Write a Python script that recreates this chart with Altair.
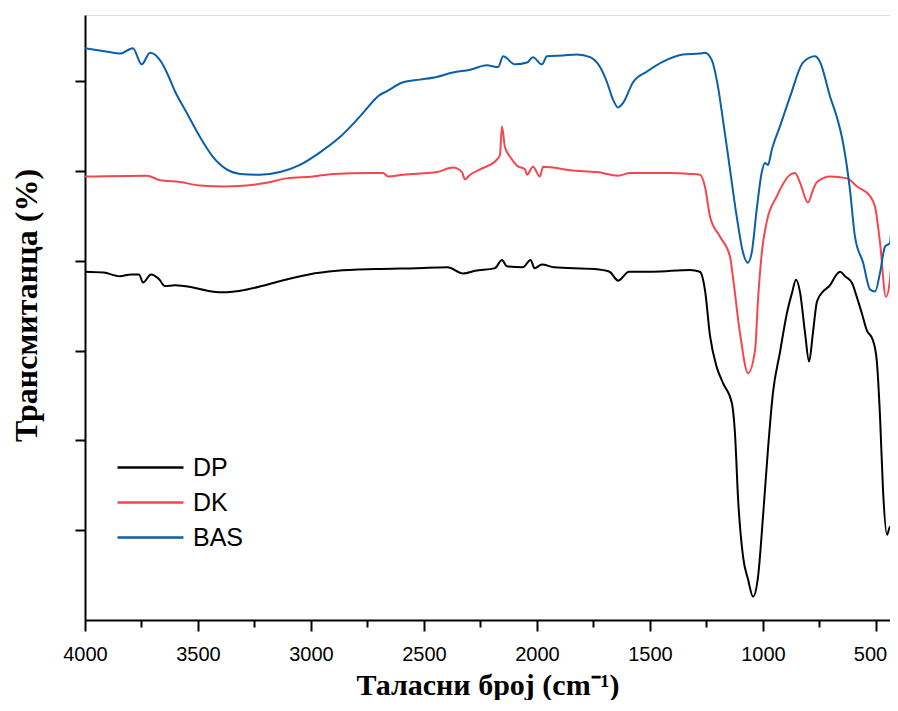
import altair as alt
import pandas as pd

# ---- data (wavenumber cm-1, transmittance in arbitrary offset units) ----
dp_w = [4000, 3917, 3847, 3795, 3761, 3743, 3708, 3673, 3646, 3602, 3532, 3462, 3394, 3288,
        3218, 3113, 3009, 2885, 2712, 2535, 2396, 2327, 2274, 2186, 2155, 2133, 2063, 2028,
        2011, 1978, 1925, 1748, 1679, 1641, 1593, 1487, 1323, 1279, 1257, 1234, 1205, 1177,
        1138, 1124, 1110, 1088, 1066, 1044, 1022, 1000, 978, 956, 925, 894, 871, 854, 836,
        814, 796, 779, 761, 734, 703, 674, 659, 637, 607, 585, 563, 541, 514, 497, 482, 469,
        451, 438, 426, 416, 402]
dp_t = [38.8, 38.7, 38.3, 38.5, 38.5, 37.6, 38.5, 38.0, 37.2, 37.3, 37.1, 36.7, 36.5, 36.8,
        37.2, 37.9, 38.5, 38.9, 39.1, 39.2, 39.3, 38.6, 38.9, 39.2, 40.1, 39.4, 39.3, 40.1,
        39.2, 39.6, 39.3, 39.1, 38.8, 37.8, 38.8, 38.8, 39.0, 38.8, 36.8, 31.6, 28.2, 26.4,
        24.2, 20.8, 13.4, 7.0, 4.5, 2.6, 4.8, 11.5, 19.0, 25.3, 29.8, 34.2, 36.5, 37.9, 36.5,
        32.0, 28.8, 32.0, 35.5, 36.6, 37.3, 38.5, 38.8, 38.3, 37.6, 36.0, 34.2, 32.3, 31.2,
        29.0, 22.6, 14.5, 9.5, 10.4, 9.5, 10.8, 12.3]

dk_w = [4000, 3727, 3668, 3580, 3491, 3389, 3284, 3196, 3107, 2991, 2903, 2739, 2681, 2659,
        2593, 2442, 2372, 2332, 2319, 2296, 2252, 2177, 2164, 2155, 2142, 2119, 2088, 2053,
        2044, 2018, 1987, 1973, 1929, 1854, 1734, 1641, 1588, 1411, 1323, 1279, 1257, 1234,
        1190, 1146, 1133, 1102, 1066, 1035, 1022, 1004, 984, 939, 880, 858, 836, 801, 779,
        761, 703, 628, 584, 526, 504, 482, 456, 438, 425, 402]
dk_t = [49.4, 49.5, 49.0, 48.8, 48.4, 48.3, 48.4, 48.7, 49.2, 49.4, 49.7, 49.8, 49.8, 49.4,
        49.6, 49.9, 50.4, 49.9, 49.1, 49.6, 50.2, 51.3, 51.8, 55.0, 52.7, 51.6, 50.6, 50.2,
        49.6, 50.5, 49.4, 50.5, 50.4, 50.1, 49.9, 49.5, 49.8, 49.8, 49.7, 49.6, 48.3, 44.9,
        42.7, 40.5, 38.2, 32.0, 27.5, 30.1, 35.7, 41.2, 44.3, 47.2, 49.6, 49.8, 48.7, 46.5,
        47.9, 48.8, 49.4, 49.2, 48.3, 47.2, 46.0, 42.0, 36.0, 37.9, 42.0, 44.9]

bas_w = [4000, 3900, 3845, 3788, 3749, 3712, 3661, 3638, 3602, 3550, 3491, 3434, 3373, 3314,
         3226, 3137, 3049, 2960, 2872, 2783, 2695, 2665, 2593, 2518, 2444, 2372, 2296, 2222,
         2172, 2150, 2097, 2044, 2018, 1978, 1956, 1885, 1823, 1765, 1721, 1690, 1664, 1641,
         1619, 1575, 1513, 1442, 1354, 1279, 1257, 1227, 1199, 1177, 1146, 1116, 1088, 1068,
         1050, 1028, 1006, 991, 978, 961, 925, 880, 823, 770, 748, 703, 674, 646, 615, 593,
         557, 526, 504, 482, 460, 438, 430, 416, 402]
bas_t = [63.7, 63.3, 63.1, 63.7, 61.9, 63.2, 62.1, 61.0, 58.9, 56.5, 53.8, 51.6, 50.2, 49.7,
         49.6, 49.9, 50.7, 52.1, 53.8, 56.1, 58.5, 58.9, 59.9, 60.2, 60.5, 61.0, 61.3, 61.8,
         61.6, 62.8, 61.9, 62.1, 62.7, 61.9, 62.8, 62.9, 63.0, 62.7, 61.6, 59.9, 58.0, 57.1,
         57.6, 59.9, 61.1, 62.2, 63.0, 63.1, 63.2, 62.4, 59.4, 55.7, 50.2, 44.9, 40.9, 39.8,
         40.9, 45.7, 49.8, 50.9, 50.7, 52.4, 55.0, 58.3, 62.1, 62.8, 62.2, 58.3, 56.1, 53.2,
         47.9, 42.7, 39.8, 36.8, 36.6, 38.7, 41.6, 42.0, 43.8, 42.7, 46.8]

series_names = ["DP", "DK", "BAS"]
series_colors = ["#000000", "#F5464F", "#0B5FA8"]
x_ticks = [4000, 3750, 3500, 3250, 3000, 2750, 2500, 2250, 2000, 1750, 1500, 1250, 1000, 750, 500]
y_ticks = [10, 20, 30, 40, 50, 60]

frames = []
for name, ws, ts in [("DP", dp_w, dp_t), ("DK", dk_w, dk_t), ("BAS", bas_w, bas_t)]:
    frames.append(pd.DataFrame({"w": ws, "t": ts, "series": name}))
df = pd.concat(frames, ignore_index=True)

chart = alt.Chart(df).mark_line(strokeWidth=2, interpolate="monotone", clip=True).encode(
    x=alt.X("w:Q",
            scale=alt.Scale(domain=[438, 4000], reverse=True, nice=False, zero=False),
            axis=alt.Axis(values=x_ticks, format="d",
                          labelExpr="datum.value % 500 === 0 ? datum.label : ''",
                          tickSize={"condition": {"test": "datum.value % 500 === 0", "value": 11}, "value": 7},
                          labelOffset={"condition": {"test": "datum.value === 500", "value": -6}, "value": 0},
                          tickWidth=2, domainWidth=2, domainColor="black", tickColor="black",
                          labelFont="Liberation Sans", labelFontSize=20, labelColor="black",
                          labelPadding=13, labelFlush=False, labelBound=False, grid=False,
                          titleFont="Liberation Serif", titleFontSize=30, titleFontWeight="bold",
                          titleColor="black", titleBaseline="alphabetic", titleY=74),
            title="Таласни број (cm⁻¹)"),
    y=alt.Y("t:Q",
            scale=alt.Scale(domain=[0, 67.4], nice=False, zero=False),
            axis=alt.Axis(values=y_ticks, labels=False, tickSize=10, tickWidth=2,
                          domainWidth=2, domainColor="black", tickColor="black", grid=False,
                          titleFont="Liberation Serif", titleFontSize=32, titleFontWeight="bold",
                          titleColor="black", titlePadding=31, titleY=290),
            title="Трансмитанца (%)"),
    color=alt.Color("series:N",
                    scale=alt.Scale(domain=series_names, range=series_colors),
                    sort=series_names,
                    legend=alt.Legend(title=None, orient="none", legendX=31, legendY=435,
                                      symbolType="stroke", symbolSize=4356, symbolStrokeWidth=2.5,
                                      clipHeight=35, rowPadding=0, labelOffset=8,
                                      labelFont="Liberation Sans", labelFontSize=25,
                                      labelColor="black")),
).properties(
    width=805, height=605,
    autosize=alt.AutoSizeParams(type="none"),
    padding={"left": 77, "top": 7, "right": 0, "bottom": 80},
).configure_view(stroke=None).configure(background="white")

chart.save("out.html", embed_options={"renderer": "svg", "actions": False})
